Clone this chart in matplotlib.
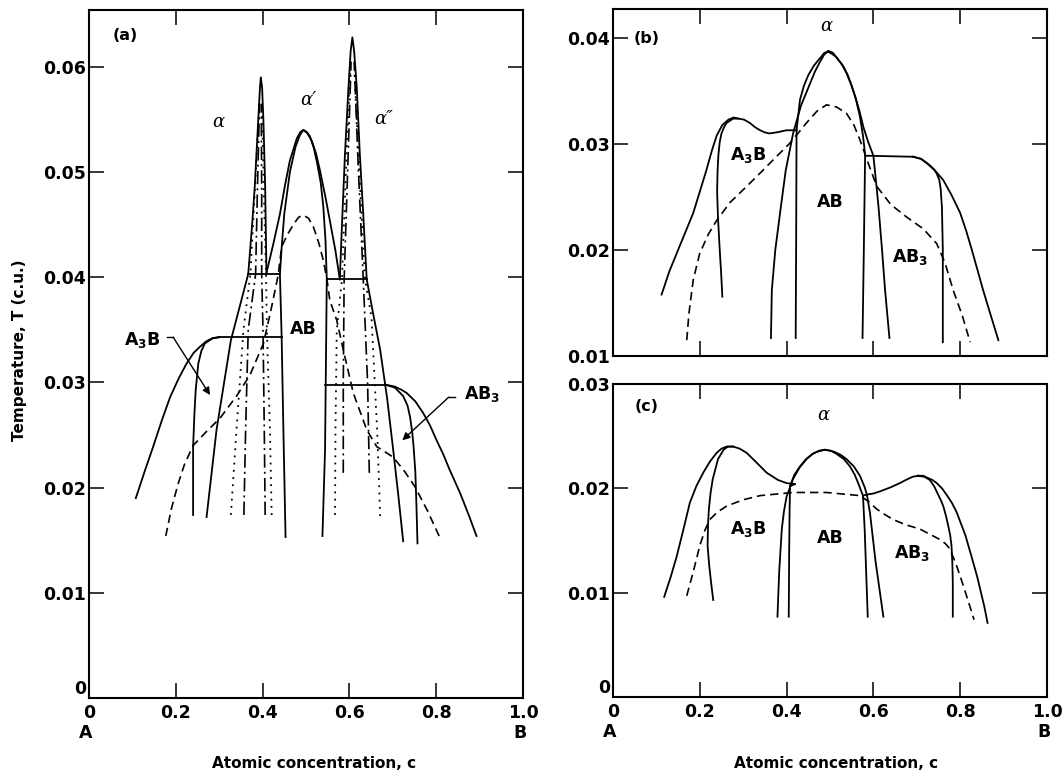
import numpy as np
import matplotlib.pyplot as plt

plt.rcParams['font.family'] = ['DejaVu Sans']
plt.rcParams['font.weight'] = 'bold'
plt.rcParams['mathtext.default'] = 'bf'

# ---------------- panel (a): three ordered phases, two-sublattice regions ----------------
a_a3b_outer = [(0.108, 0.0190), (0.128, 0.0215), (0.148, 0.0239), (0.168, 0.0264),
               (0.187, 0.0286), (0.207, 0.0304), (0.225, 0.0318), (0.241, 0.0328),
               (0.256, 0.0334), (0.270, 0.0339), (0.285, 0.0342), (0.300, 0.0343)]
a_a3b_inner = [(0.240, 0.0174), (0.240, 0.0239), (0.243, 0.0270), (0.246, 0.0293),
               (0.252, 0.0318), (0.259, 0.0330), (0.267, 0.0337), (0.285, 0.0342),
               (0.300, 0.0343)]
a_a3b_plateau = [(0.300, 0.0343), (0.445, 0.0343)]

# left solid boundary running up into the alpha spike
a_left_solid = [(0.271, 0.0172), (0.294, 0.0255), (0.327, 0.0340), (0.367, 0.0403),
                (0.376, 0.0450), (0.382, 0.0486), (0.390, 0.0549), (0.394, 0.0580),
                (0.396, 0.0590), (0.399, 0.0580), (0.402, 0.0549), (0.406, 0.0486),
                (0.409, 0.0404)]
a_left_plateau = [(0.367, 0.0403), (0.440, 0.0403)]

# alpha' dome (outer) and AB dome (inner)
a_alpha1_dome = [(0.409, 0.0404), (0.425, 0.0432), (0.440, 0.0460), (0.452, 0.0488),
                 (0.463, 0.0511), (0.479, 0.0532), (0.487, 0.0538), (0.494, 0.0540),
                 (0.503, 0.0537), (0.513, 0.0530), (0.523, 0.0518), (0.532, 0.0502),
                 (0.545, 0.0476), (0.555, 0.0454), (0.568, 0.0425), (0.578, 0.0398)]
a_ab_dome = [(0.453, 0.0153), (0.448, 0.0255), (0.444, 0.0343), (0.440, 0.0403),
             (0.444, 0.0428), (0.450, 0.0460), (0.463, 0.0500), (0.476, 0.0524),
             (0.486, 0.0535), (0.494, 0.0540), (0.502, 0.0538), (0.509, 0.0534),
             (0.518, 0.0523), (0.526, 0.0508), (0.534, 0.0490), (0.540, 0.0467),
             (0.545, 0.0435), (0.548, 0.0398), (0.544, 0.0236), (0.538, 0.0154)]

# right spike (alpha'') and its continuation down to the AB3 region
a_right_solid = [(0.578, 0.0398), (0.584, 0.0460), (0.590, 0.0518), (0.598, 0.0581),
                 (0.603, 0.0615), (0.607, 0.0628), (0.611, 0.0615), (0.617, 0.0581),
                 (0.624, 0.0518), (0.632, 0.0460), (0.640, 0.0398), (0.655, 0.0365),
                 (0.671, 0.0331), (0.687, 0.0285), (0.701, 0.0236), (0.713, 0.0192),
                 (0.724, 0.0149)]
a_right_plateau = [(0.548, 0.0398), (0.640, 0.0398)]
a_ab3_plateau = [(0.544, 0.0298), (0.682, 0.0298)]
a_ab3_outer = [(0.682, 0.0298), (0.705, 0.0296), (0.720, 0.0293), (0.732, 0.0290),
               (0.752, 0.0282), (0.770, 0.0271), (0.786, 0.0259), (0.801, 0.0245),
               (0.816, 0.0232), (0.830, 0.0218), (0.843, 0.0206), (0.855, 0.0195),
               (0.875, 0.0174), (0.893, 0.0154)]
a_ab3_inner = [(0.682, 0.0298), (0.705, 0.0295), (0.724, 0.0287), (0.734, 0.0278),
               (0.740, 0.0267), (0.745, 0.0252), (0.748, 0.0239), (0.752, 0.0215),
               (0.754, 0.0191), (0.757, 0.0147)]

a_dashed = [(0.177, 0.0154), (0.190, 0.0180), (0.205, 0.0203), (0.220, 0.0222),
            (0.240, 0.0240), (0.270, 0.0253), (0.302, 0.0266), (0.340, 0.0287),
            (0.371, 0.0307), (0.402, 0.0337), (0.420, 0.0370), (0.436, 0.0402),
            (0.444, 0.0429), (0.458, 0.0441), (0.471, 0.0450), (0.483, 0.0457),
            (0.494, 0.0459), (0.506, 0.0456), (0.517, 0.0448), (0.530, 0.0432),
            (0.540, 0.0416), (0.548, 0.0399), (0.555, 0.0378), (0.571, 0.0359),
            (0.586, 0.0331), (0.609, 0.0290), (0.640, 0.0255), (0.663, 0.0239),
            (0.701, 0.0229), (0.728, 0.0215), (0.751, 0.0201), (0.780, 0.0178),
            (0.809, 0.0152)]

a_dotted_l1 = [(0.327, 0.0174), (0.340, 0.0255), (0.356, 0.0350), (0.372, 0.0403),
               (0.382, 0.0480), (0.392, 0.0560)]
a_dashdot_l1 = [(0.357, 0.0174), (0.361, 0.0255), (0.367, 0.0350), (0.384, 0.0403),
                (0.388, 0.0480), (0.393, 0.0565)]
a_dashdot_l2 = [(0.406, 0.0174), (0.404, 0.0255), (0.401, 0.0350), (0.398, 0.0403),
                (0.398, 0.0480), (0.397, 0.0565)]
a_dotted_l2 = [(0.421, 0.0174), (0.417, 0.0255), (0.410, 0.0350), (0.408, 0.0403),
               (0.403, 0.0480), (0.399, 0.0560)]
a_dotted_r1 = [(0.567, 0.0174), (0.568, 0.0255), (0.571, 0.0350), (0.583, 0.0398),
               (0.592, 0.0500), (0.602, 0.0600)]
a_dashdot_r1 = [(0.586, 0.0214), (0.586, 0.0300), (0.588, 0.0398), (0.596, 0.0500),
                (0.604, 0.0605)]
a_dashdot_r2 = [(0.646, 0.0214), (0.642, 0.0300), (0.632, 0.0398), (0.621, 0.0500),
                (0.611, 0.0605)]
a_dotted_r2 = [(0.671, 0.0173), (0.664, 0.0255), (0.651, 0.0362), (0.636, 0.0398),
               (0.623, 0.0500), (0.612, 0.0595)]

# ---------------- panel (b) ----------------
b_a3b_outer = [(0.112, 0.0158), (0.130, 0.0180), (0.150, 0.0200), (0.168, 0.0218),
               (0.185, 0.0235), (0.200, 0.0255), (0.215, 0.0275), (0.228, 0.0294),
               (0.239, 0.0308), (0.252, 0.0318), (0.266, 0.0323), (0.278, 0.0325),
               (0.289, 0.0324), (0.302, 0.0323), (0.315, 0.0320), (0.327, 0.0316),
               (0.339, 0.0313), (0.350, 0.0311), (0.360, 0.0310), (0.377, 0.0311),
               (0.400, 0.0313), (0.423, 0.0313)]
b_a3b_inner = [(0.252, 0.0156), (0.249, 0.0180), (0.246, 0.0200), (0.242, 0.0230),
               (0.240, 0.0255), (0.241, 0.0275), (0.243, 0.0290), (0.246, 0.0302),
               (0.250, 0.0310), (0.256, 0.0316), (0.262, 0.0320), (0.277, 0.0324),
               (0.289, 0.0324)]
b_ab_inner = [(0.421, 0.0117), (0.422, 0.0200), (0.423, 0.0313), (0.431, 0.0342),
              (0.440, 0.0355), (0.450, 0.0365), (0.463, 0.0374), (0.477, 0.0381),
              (0.487, 0.0386), (0.496, 0.0387), (0.505, 0.0385), (0.515, 0.0382),
              (0.531, 0.0373), (0.541, 0.0365), (0.550, 0.0355), (0.560, 0.0342),
              (0.569, 0.0326), (0.576, 0.0308), (0.581, 0.0290), (0.578, 0.0200),
              (0.575, 0.0117)]
b_ab_outer = [(0.364, 0.0117), (0.366, 0.0162), (0.374, 0.0200), (0.385, 0.0235),
              (0.398, 0.0275), (0.415, 0.0310), (0.433, 0.0336), (0.454, 0.0357),
              (0.465, 0.0368), (0.475, 0.0376), (0.486, 0.0384), (0.496, 0.0388),
              (0.507, 0.0386), (0.518, 0.0380), (0.528, 0.0375), (0.538, 0.0367),
              (0.548, 0.0357), (0.558, 0.0345), (0.568, 0.0331), (0.577, 0.0316),
              (0.588, 0.0302), (0.600, 0.0289), (0.606, 0.0265), (0.612, 0.0240),
              (0.620, 0.0200), (0.627, 0.0162), (0.637, 0.0117)]
b_ab3_plateau = [(0.581, 0.0289), (0.692, 0.0288)]
b_ab3_outer = [(0.692, 0.0288), (0.710, 0.0286), (0.723, 0.0282), (0.742, 0.0275),
               (0.761, 0.0266), (0.780, 0.0252), (0.800, 0.0235), (0.814, 0.0218),
               (0.827, 0.0200), (0.840, 0.0181), (0.853, 0.0162), (0.870, 0.0139),
               (0.888, 0.0115)]
b_ab3_inner = [(0.692, 0.0288), (0.710, 0.0286), (0.730, 0.0280), (0.740, 0.0276),
               (0.746, 0.0272), (0.752, 0.0266), (0.755, 0.0258), (0.758, 0.0240),
               (0.760, 0.0200), (0.760, 0.0113)]
b_dashed = [(0.170, 0.0115), (0.175, 0.0140), (0.185, 0.0172), (0.200, 0.0197),
            (0.220, 0.0215), (0.239, 0.0228), (0.270, 0.0245), (0.308, 0.0260),
            (0.340, 0.0273), (0.369, 0.0285), (0.408, 0.0301), (0.446, 0.0320),
            (0.470, 0.0331), (0.492, 0.0337), (0.515, 0.0335), (0.538, 0.0329),
            (0.555, 0.0318), (0.569, 0.0304), (0.588, 0.0282), (0.608, 0.0260),
            (0.640, 0.0243), (0.677, 0.0231), (0.715, 0.0220), (0.746, 0.0206),
            (0.765, 0.0188), (0.784, 0.0162), (0.805, 0.0138), (0.823, 0.0113)]

# ---------------- panel (c) ----------------
c_a3b_outer = [(0.118, 0.0096), (0.133, 0.0115), (0.147, 0.0135), (0.162, 0.0160),
               (0.177, 0.0186), (0.192, 0.0202), (0.208, 0.0215), (0.224, 0.0226),
               (0.239, 0.0234), (0.250, 0.0238), (0.262, 0.0240), (0.277, 0.0240),
               (0.292, 0.0238), (0.308, 0.0234), (0.330, 0.0225), (0.354, 0.0215),
               (0.380, 0.0208), (0.400, 0.0205), (0.419, 0.0204)]
c_a3b_inner = [(0.231, 0.0093), (0.226, 0.0110), (0.222, 0.0125), (0.218, 0.0145),
               (0.219, 0.0165), (0.221, 0.0180), (0.225, 0.0196), (0.230, 0.0209),
               (0.242, 0.0228), (0.255, 0.0237), (0.265, 0.0240), (0.277, 0.0240)]
c_ab_outer = [(0.379, 0.0077), (0.383, 0.0120), (0.389, 0.0161), (0.394, 0.0178),
              (0.400, 0.0192), (0.415, 0.0209), (0.430, 0.0220), (0.446, 0.0228),
              (0.460, 0.0233), (0.470, 0.0235), (0.488, 0.0237), (0.500, 0.0236),
              (0.510, 0.0235), (0.525, 0.0232), (0.538, 0.0228), (0.555, 0.0221),
              (0.569, 0.0212), (0.580, 0.0201), (0.585, 0.0194), (0.592, 0.0177),
              (0.605, 0.0130), (0.623, 0.0077)]
c_ab_inner = [(0.405, 0.0077), (0.406, 0.0140), (0.407, 0.0180), (0.408, 0.0202),
              (0.418, 0.0213), (0.431, 0.0221), (0.445, 0.0228), (0.460, 0.0233),
              (0.475, 0.0236), (0.488, 0.0237), (0.502, 0.0236), (0.515, 0.0233),
              (0.532, 0.0228), (0.546, 0.0221), (0.557, 0.0213), (0.565, 0.0205),
              (0.576, 0.0193), (0.580, 0.0160), (0.587, 0.0077)]
c_left_link = [(0.408, 0.0202), (0.419, 0.0204)]
c_right_link = [(0.576, 0.0193), (0.585, 0.0194)]
c_ab3_top = [(0.585, 0.0194), (0.600, 0.0195), (0.615, 0.0197), (0.640, 0.0201),
             (0.661, 0.0205), (0.675, 0.0208), (0.690, 0.0211), (0.703, 0.0212)]
c_ab3_outer = [(0.703, 0.0212), (0.715, 0.0212), (0.725, 0.0210), (0.736, 0.0208),
               (0.746, 0.0205), (0.758, 0.0200), (0.770, 0.0193), (0.781, 0.0186),
               (0.792, 0.0177), (0.802, 0.0166), (0.812, 0.0155), (0.821, 0.0142),
               (0.830, 0.0129), (0.840, 0.0114), (0.848, 0.0100), (0.856, 0.0086),
               (0.863, 0.0071)]
c_ab3_inner = [(0.703, 0.0212), (0.718, 0.0211), (0.730, 0.0208), (0.740, 0.0202),
               (0.748, 0.0195), (0.755, 0.0189), (0.761, 0.0183), (0.767, 0.0174),
               (0.772, 0.0165), (0.777, 0.0155), (0.780, 0.0145), (0.782, 0.0128),
               (0.783, 0.0110), (0.783, 0.0077)]
c_dashed = [(0.170, 0.0097), (0.185, 0.0120), (0.200, 0.0145), (0.212, 0.0160),
            (0.223, 0.0170), (0.240, 0.0177), (0.262, 0.0183), (0.300, 0.0189),
            (0.339, 0.0193), (0.415, 0.0196), (0.492, 0.0196), (0.569, 0.0193),
            (0.590, 0.0187), (0.608, 0.0180), (0.626, 0.0175), (0.646, 0.0170),
            (0.675, 0.0165), (0.707, 0.0161), (0.730, 0.0156), (0.753, 0.0151),
            (0.766, 0.0147), (0.776, 0.0142), (0.790, 0.0128), (0.807, 0.0107),
            (0.820, 0.0090), (0.832, 0.0074)]

x_ticks = [0, 0.2, 0.4, 0.6, 0.8, 1.0]
x_labels = ['0', '0.2', '0.4', '0.6', '0.8', '1.0']
a_yticks = [0, 0.01, 0.02, 0.03, 0.04, 0.05, 0.06]
a_ylabels = ['0', '0.01', '0.02', '0.03', '0.04', '0.05', '0.06']
b_yticks = [0.01, 0.02, 0.03, 0.04]
b_ylabels = ['0.01', '0.02', '0.03', '0.04']
c_yticks = [0, 0.01, 0.02, 0.03]
c_ylabels = ['0', '0.01', '0.02', '0.03']

solid = dict(color='k', lw=1.3, ls='-', solid_joinstyle='round')
dashed = dict(color='k', lw=1.2, ls=(0, (5, 3)))
dotted = dict(color='k', lw=1.3, ls=(0, (1, 3)))
dashdot = dict(color='k', lw=1.2, ls=(0, (8, 2.5, 1.2, 2.5)))


def draw(ax, pts, style):
    c, t = zip(*pts)
    ax.plot(c, t, **style)


def frame(ax, ylim, yticks, ylabels, xlab=True):
    ax.set_xlim(0, 1)
    ax.set_ylim(*ylim)
    ax.set_xticks(x_ticks)
    ax.set_xticklabels(x_labels if xlab else [])
    ax.set_yticks(yticks)
    ax.set_yticklabels(ylabels)
    ax.tick_params(direction='in', length=11, width=1.1, top=True, right=True,
                   labelsize=12.5)
    ax.tick_params(axis='x', pad=4)
    ax.tick_params(axis='y', pad=2)
    for s in ax.spines.values():
        s.set_linewidth(1.5)
    if xlab:
        # the "0" on the T axis sits just above the corner
        ax.get_yticklabels()[0].set_va('bottom')
        ax.annotate('A', xy=(0, 0), xycoords='axes fraction', xytext=(-2.5, -25),
                    textcoords='offset points', ha='center', va='center', fontsize=12.5)
        ax.annotate('B', xy=(1, 0), xycoords='axes fraction', xytext=(-2, -25),
                    textcoords='offset points', ha='center', va='center', fontsize=12.5)


fig = plt.figure(figsize=(10.64, 7.76), dpi=100)
ax_a = fig.add_axes([0.0836, 0.1005, 0.4079, 0.8866])
ax_b = fig.add_axes([0.5761, 0.5412, 0.4079, 0.4472])
ax_c = fig.add_axes([0.5761, 0.1018, 0.4079, 0.4034])

frame(ax_a, (0, 0.0654), a_yticks, a_ylabels)
frame(ax_b, (0.01, 0.04274), b_yticks, b_ylabels, xlab=False)
frame(ax_c, (0, 0.03), c_yticks, c_ylabels)

# (a)
for pts in [a_a3b_outer, a_a3b_inner, a_a3b_plateau, a_left_solid, a_left_plateau,
            a_alpha1_dome, a_ab_dome, a_right_solid, a_right_plateau, a_ab3_plateau,
            a_ab3_outer, a_ab3_inner]:
    draw(ax_a, pts, solid)
draw(ax_a, a_dashed, dashed)
for pts in [a_dotted_l1, a_dotted_l2, a_dotted_r1, a_dotted_r2]:
    draw(ax_a, pts, dotted)
for pts in [a_dashdot_l1, a_dashdot_l2, a_dashdot_r1, a_dashdot_r2]:
    draw(ax_a, pts, dashdot)

greek = dict(family='DejaVu Serif', style='italic', weight='normal', fontsize=13,
             ha='center', va='center')
ax_a.text(0.297, 0.0548, 'α', **greek)
ax_a.text(0.505, 0.0568, 'α′', **greek)
ax_a.text(0.680, 0.0550, 'α″', **greek)
ax_a.text(0.083, 0.0630, '(a)', fontsize=11.5, ha='center', va='center')
ax_a.text(0.493, 0.0351, 'AB', fontsize=12.5, ha='center', va='center')
ax_a.text(0.122, 0.0340, 'A$_3$B', fontsize=12.5, ha='center', va='center')
ax_a.text(0.905, 0.0289, 'AB$_3$', fontsize=12.5, ha='center', va='center')

arrow = dict(arrowstyle='-|>', color='k', lw=1.0, mutation_scale=11,
             shrinkA=0, shrinkB=0)
ax_a.plot([0.180, 0.194], [0.0343, 0.0343], color='k', lw=1.0)
ax_a.annotate('', xy=(0.279, 0.0288), xytext=(0.194, 0.0343), arrowprops=arrow)
ax_a.plot([0.843, 0.829], [0.0286, 0.0286], color='k', lw=1.0)
ax_a.annotate('', xy=(0.722, 0.0245), xytext=(0.829, 0.0286), arrowprops=arrow)

# (b)
for pts in [b_a3b_outer, b_a3b_inner, b_ab_inner, b_ab_outer, b_ab3_plateau,
            b_ab3_outer, b_ab3_inner]:
    draw(ax_b, pts, solid)
draw(ax_b, b_dashed, dashed)
ax_b.text(0.078, 0.0400, '(b)', fontsize=11.5, ha='center', va='center')
ax_b.text(0.492, 0.0411, 'α', **greek)
ax_b.text(0.311, 0.0290, 'A$_3$B', fontsize=12.5, ha='center', va='center')
ax_b.text(0.501, 0.0245, 'AB', fontsize=12.5, ha='center', va='center')
ax_b.text(0.685, 0.0193, 'AB$_3$', fontsize=12.5, ha='center', va='center')

# (c)
for pts in [c_a3b_outer, c_a3b_inner, c_ab_outer, c_ab_inner, c_left_link,
            c_right_link, c_ab3_top, c_ab3_outer, c_ab3_inner]:
    draw(ax_c, pts, solid)
draw(ax_c, c_dashed, dashed)
ax_c.text(0.077, 0.0278, '(c)', fontsize=11.5, ha='center', va='center')
ax_c.text(0.484, 0.0270, 'α', **greek)
ax_c.text(0.311, 0.0161, 'A$_3$B', fontsize=12.5, ha='center', va='center')
ax_c.text(0.500, 0.0152, 'AB', fontsize=12.5, ha='center', va='center')
ax_c.text(0.689, 0.0138, 'AB$_3$', fontsize=12.5, ha='center', va='center')

fig.text(314 / 1064, 1 - 763 / 776, 'Atomic concentration, c', fontsize=11,
         ha='center', va='center')
fig.text(836 / 1064, 1 - 763 / 776, 'Atomic concentration, c', fontsize=11,
         ha='center', va='center')
fig.text(20 / 1064, 1 - 350 / 776, 'Temperature, T (c.u.)', fontsize=11,
         rotation=90, ha='center', va='center')

fig.savefig('out.png', dpi=100)
